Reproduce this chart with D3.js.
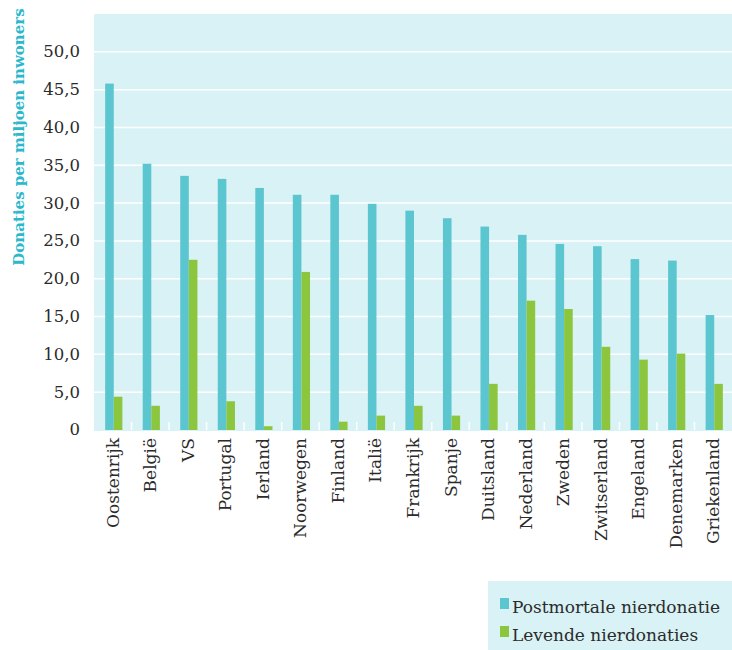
<!DOCTYPE html>
<html>
<head>
<meta charset="utf-8">
<script src="https://cdn.jsdelivr.net/npm/d3@7"></script>
<style>
  body { margin: 0; background: #fff; }
  text { font-family: 'DejaVu Serif', serif; fill: #2b2b2b; }
</style>
</head>
<body>
<script>
const countries = ['Oostenrijk', 'België', 'VS', 'Portugal', 'Ierland', 'Noorwegen', 'Finland', 'Italië',
  'Frankrijk', 'Spanje', 'Duitsland', 'Nederland', 'Zweden', 'Zwitserland', 'Engeland', 'Denemarken', 'Griekenland']
const postmortal = [45.8, 35.2, 33.6, 33.2, 32.0, 31.1, 31.1, 29.9, 29.0, 28.0, 26.9, 25.8, 24.6, 24.3, 22.6, 22.4, 15.2]
const living = [4.4, 3.2, 22.5, 3.8, 0.5, 20.9, 1.1, 1.9, 3.2, 1.9, 6.1, 17.1, 16.0, 11.0, 9.3, 10.1, 6.1]
const tickValues = [0, 5, 10, 15, 20, 25, 30, 35, 40, 45, 50]
const tickLabels = ['0', '5,0', '10,0', '15,0', '20,0', '25,0', '30,0', '35,0', '40,0', '45,5', '50,0']
const seriesNames = ['Postmortale nierdonatie', 'Levende nierdonaties']
const colors = ['#5cc6d0', '#8cc63f']

const width = 732
const height = 650
const margin = { top: 14, right: 0, bottom: 220, left: 94 }

const svg = d3.select('body').append('svg')
  .attr('width', width)
  .attr('height', height)

const xScale = d3.scaleBand()
  .domain(countries)
  .range([margin.left, width - margin.right])

const yScale = d3.scaleLinear()
  .domain([0, 55])
  .range([height - margin.bottom, margin.top])

// plot background
svg.append('rect')
  .attr('x', margin.left)
  .attr('y', margin.top)
  .attr('width', width - margin.left - margin.right)
  .attr('height', yScale(0) - margin.top + 1)
  .style('fill', '#d9f2f5')

// gridlines
svg.selectAll('.grid')
  .data(tickValues.filter(d => d > 0))
  .enter().append('line')
  .attr('class', 'grid')
  .attr('x1', margin.left)
  .attr('x2', width - margin.right)
  .attr('y1', d => yScale(d))
  .attr('y2', d => yScale(d))
  .style('stroke', '#ffffff')
  .style('stroke-width', 1.5)

// small tick marks between categories
svg.selectAll('.sep')
  .data(countries.slice(1))
  .enter().append('line')
  .attr('class', 'sep')
  .attr('x1', d => xScale(d))
  .attr('x2', d => xScale(d))
  .attr('y1', yScale(0) - 8)
  .attr('y2', yScale(0))
  .style('stroke', '#ffffff')
  .style('stroke-width', 1.5)

// y axis labels
const yAxis = svg.append('g')
  .attr('transform', `translate(${margin.left - 11}, 0)`)
  .call(d3.axisLeft(yScale).tickValues(tickValues).tickSize(0).tickFormat((d, i) => tickLabels[i]))
yAxis.select('.domain').remove()
yAxis.selectAll('text')
  .style('font-family', "'DejaVu Serif', serif")
  .style('font-size', '16.5px')
  .style('fill', '#2b2b2b')
  .attr('dy', '0.3em')

const barW = 8.6
const offset = 1

svg.selectAll('.post')
  .data(countries)
  .enter().append('rect')
  .attr('class', 'post')
  .attr('x', d => xScale(d) + xScale.bandwidth() / 2 - barW + offset)
  .attr('y', (d, i) => yScale(postmortal[i]))
  .attr('width', barW)
  .attr('height', (d, i) => yScale(0) - yScale(postmortal[i]))
  .style('fill', colors[0])

svg.selectAll('.live')
  .data(countries)
  .enter().append('rect')
  .attr('class', 'live')
  .attr('x', d => xScale(d) + xScale.bandwidth() / 2 + offset)
  .attr('y', (d, i) => yScale(living[i]))
  .attr('width', barW)
  .attr('height', (d, i) => yScale(0) - yScale(living[i]))
  .style('fill', colors[1])

// x labels, rotated
svg.selectAll('.xlabel')
  .data(countries)
  .enter().append('text')
  .attr('class', 'xlabel')
  .attr('transform', d => `translate(${xScale(d) + xScale.bandwidth() / 2 + 6}, ${yScale(0) + 8}) rotate(-90)`)
  .attr('text-anchor', 'end')
  .style('font-size', '17px')
  .text(d => d)

// y axis title
svg.append('text')
  .attr('transform', `translate(24, ${137}) rotate(-90)`)
  .attr('text-anchor', 'middle')
  .style('font-size', '15px')
  .style('font-weight', 'bold')
  .style('fill', '#2bb7cc')
  .text('Donaties per miljoen inwoners')

// legend
const legend = svg.append('g')
svg.append('rect')
  .attr('x', 488)
  .attr('y', 581)
  .attr('width', width - 488)
  .attr('height', height - 581)
  .style('fill', '#d9f2f5')
  .lower()

const items = legend.selectAll('.item')
  .data(seriesNames)
  .enter().append('g')
  .attr('class', 'item')
  .attr('transform', (d, i) => `translate(500, ${598 + i * 28})`)

items.append('rect')
  .attr('width', 9)
  .attr('height', 11)
  .style('fill', (d, i) => colors[i])

items.append('text')
  .attr('x', 12)
  .attr('y', 15)
  .style('font-size', '17px')
  .text(d => d)
</script>
</body>
</html>
